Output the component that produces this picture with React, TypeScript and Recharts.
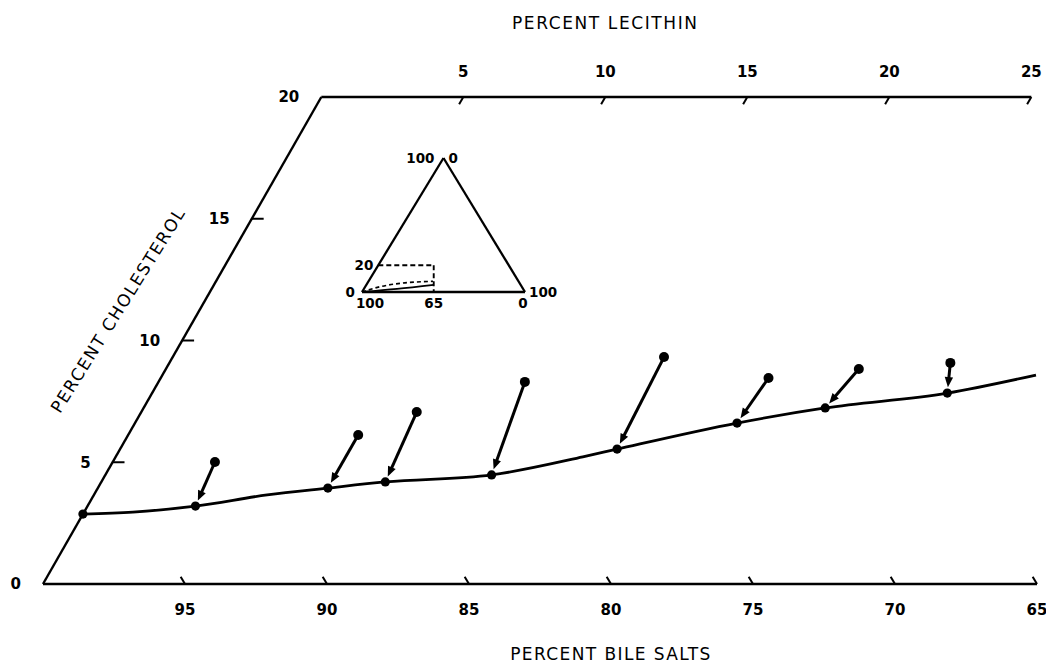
import React from 'react';
import { ComposedChart, Line, Scatter, XAxis, YAxis, ReferenceLine, ReferenceDot } from 'recharts';

// ---- geometry of the skewed (ternary) frame ----
const SKEW = 0.49; // horizontal shift per % cholesterol, in % lecithin units
const toX = (lecithin: number, cholesterol: number) => lecithin + SKEW * cholesterol;

// ---- tick labels ----
const bileSaltTicks = [95, 90, 85, 80, 75, 70, 65];
const lecithinTicks = [5, 10, 15, 20, 25];
const cholesterolTicks = [0, 5, 10, 15, 20];
const cholesterolTickMarks = [5, 10, 15];

// ---- equilibrium points (on the solubility curve) ----
const eqLecithin = [0, 3.8, 8.1, 10.0, 13.6, 17.5, 21.2, 24.0, 28.0];
const eqCholesterol = [2.87, 3.2, 3.94, 4.19, 4.48, 5.54, 6.61, 7.23, 7.84];

// ---- initial (supersaturated) points, arrow i goes to eq point i+1 ----
const initLecithin = [3.6, 8.1, 9.7, 12.9, 17.3, 21.4, 24.4, 27.5];
const initCholesterol = [5.01, 6.12, 7.06, 8.3, 9.32, 8.46, 8.83, 9.08];

// ---- traced solubility limit curve ----
const curveLecithin = [0, 1.72, 3.8, 6.1, 8.1, 10.0, 13.6, 16.45, 17.5, 21.2, 24.0, 28.0, 30.76];
const curveCholesterol = [2.87, 2.95, 3.2, 3.66, 3.94, 4.19, 4.48, 5.22, 5.54, 6.61, 7.23, 7.84, 8.58];

// ---- inset triangle (plot units: base 0..100, height 0..86.6) ----
const insetVertX = [0, 50, 100];
const insetVertY = [0, 86.6, 0];
const insetBoxX = [10, 44, 44];
const insetBoxY = [17.3, 17.3, 0];
const insetSolidX = [0, 21.5, 44];
const insetSolidY = [0, 2.0, 4.6];
const insetDashX = [0, 11, 23.3, 43.6];
const insetDashY = [0, 3.4, 5.6, 6.9];

const FONT = '"DejaVu Sans", sans-serif';

const curveData = curveLecithin.map((l, i) => ({ x: toX(l, curveCholesterol[i]), y: curveCholesterol[i] }));
const eqData = eqLecithin.map((l, i) => ({ x: toX(l, eqCholesterol[i]), y: eqCholesterol[i] }));
const initData = initLecithin.map((l, i) => ({ x: toX(l, initCholesterol[i]), y: initCholesterol[i] }));

const arrowShape = (p: any) => {
  const { x1, y1, x2, y2 } = p;
  const dx = x2 - x1;
  const dy = y2 - y1;
  const len = Math.hypot(dx, dy) || 1;
  const ux = dx / len;
  const uy = dy / len;
  const tipX = x2 - ux * 6;
  const tipY = y2 - uy * 6;
  const headLen = 10;
  const headW = 4.2;
  const bx = tipX - ux * headLen;
  const by = tipY - uy * headLen;
  const px = -uy;
  const py = ux;
  return (
    <g>
      <line x1={x1} y1={y1} x2={bx + ux * 1} y2={by + uy * 1} stroke="#000" strokeWidth={3} />
      <polygon
        points={`${tipX},${tipY} ${bx + px * headW},${by + py * headW} ${bx - px * headW},${by - py * headW}`}
        fill="#000"
      />
    </g>
  );
};

const numStyle = { fill: '#000', fontSize: 15, fontWeight: 'bold', fontFamily: FONT };
const insetNum = { fill: '#000', fontSize: 13.5, fontWeight: 'bold', fontFamily: FONT };

const dot = (r: number) => (p: any) => <circle cx={p.cx} cy={p.cy} r={r} fill="#000" />;

function Inset() {
  const solid = insetSolidX.map((x, i) => ({ x, y: insetSolidY[i] }));
  const dashed = insetDashX.map((x, i) => ({ x, y: insetDashY[i] }));
  const edges = [0, 1, 2].map((i) => [
    { x: insetVertX[i], y: insetVertY[i] },
    { x: insetVertX[(i + 1) % 3], y: insetVertY[(i + 1) % 3] },
  ]);
  return (
    <ComposedChart width={230} height={180} margin={{ top: 18, left: 30, right: 37, bottom: 28 }}>
      <XAxis type="number" dataKey="x" domain={[0, 100]} hide />
      <YAxis type="number" dataKey="y" domain={[0, 86.6]} hide />
      {edges.map((seg, i) => (
        <ReferenceLine key={'e' + i} segment={seg as any} stroke="#000" strokeWidth={2.3} ifOverflow="visible" />
      ))}
      <ReferenceLine
        segment={[{ x: insetBoxX[0], y: insetBoxY[0] }, { x: insetBoxX[1], y: insetBoxY[1] }]}
        stroke="#000" strokeWidth={1.9} strokeDasharray="5 3" ifOverflow="visible"
      />
      <ReferenceLine
        segment={[{ x: insetBoxX[1], y: insetBoxY[1] }, { x: insetBoxX[2], y: insetBoxY[2] }]}
        stroke="#000" strokeWidth={1.9} strokeDasharray="5 3" ifOverflow="visible"
      />
      <Line data={solid} dataKey="y" type="monotone" stroke="#000" strokeWidth={1.8} dot={false} isAnimationActive={false} />
      <Line data={dashed} dataKey="y" type="monotone" stroke="#000" strokeWidth={1.6} strokeDasharray="4 3" dot={false} isAnimationActive={false} />
      <ReferenceDot x={50} y={86.6} r={1} fill="none" stroke="none" ifOverflow="visible"
        label={{ value: '100', position: 'left', offset: 8, ...insetNum }} />
      <ReferenceDot x={50} y={86.6} r={1} fill="none" stroke="none" ifOverflow="visible"
        label={{ value: '0', position: 'right', offset: 4, ...insetNum }} />
      <ReferenceDot x={0} y={0} r={1} fill="none" stroke="none" ifOverflow="visible"
        label={{ value: '0', position: 'left', offset: 6, ...insetNum }} />
      <ReferenceDot x={100} y={0} r={1} fill="none" stroke="none" ifOverflow="visible"
        label={{ value: '100', position: 'right', offset: 3, ...insetNum }} />
      <ReferenceDot x={insetBoxX[0]} y={insetBoxY[0]} r={1} fill="none" stroke="none" ifOverflow="visible"
        label={{ value: '20', position: 'left', offset: 4, ...insetNum }} />
      <ReferenceDot x={4.9} y={0} r={1} fill="none" stroke="none" ifOverflow="visible"
        label={{ value: '100', position: 'bottom', offset: 5, ...insetNum }} />
      <ReferenceDot x={44} y={0} r={1} fill="none" stroke="none" ifOverflow="visible"
        label={{ value: '65', position: 'bottom', offset: 5, ...insetNum }} />
      <ReferenceDot x={98.8} y={0} r={1} fill="none" stroke="none" ifOverflow="visible"
        label={{ value: '0', position: 'bottom', offset: 5, ...insetNum }} />
    </ComposedChart>
  );
}

export default function App() {
  const leftEdge = [{ x: 0, y: 0 }, { x: toX(0, 20), y: 20 }];
  const topEdge = [{ x: toX(0, 20), y: 20 }, { x: toX(25, 20), y: 20 }];
  return (
    <div style={{ position: 'relative', width: 1046, height: 661, background: '#fff' }}>
      <ComposedChart width={1046} height={661} margin={{ top: 59, left: 35, right: 17, bottom: 55 }}>
        <XAxis
          xAxisId="b"
          type="number"
          dataKey="x"
          domain={[0, 35]}
          ticks={bileSaltTicks.map((b) => 100 - b)}
          tickFormatter={(v: number) => String(Math.round(100 - v))}
          axisLine={{ stroke: '#000', strokeWidth: 2.6 }}
          tickLine={false}
          tickSize={0}
          tickMargin={20}
          tick={numStyle}
        />
        <XAxis
          xAxisId="t"
          orientation="top"
          type="number"
          dataKey="x"
          domain={[-SKEW * 20, 35 - SKEW * 20]}
          allowDataOverflow
          ticks={lecithinTicks}
          axisLine={false}
          tickLine={false}
          tickSize={0}
          tickMargin={20}
          tick={numStyle}
        />
        <YAxis type="number" dataKey="y" domain={[0, 20]} hide />

        <ReferenceLine xAxisId="b" segment={leftEdge} stroke="#000" strokeWidth={2.4} ifOverflow="visible" />
        <ReferenceLine xAxisId="b" segment={topEdge} stroke="#000" strokeWidth={2.4} ifOverflow="visible" />

        {bileSaltTicks.map((b) => (
          <ReferenceLine key={'bt' + b} xAxisId="b" ifOverflow="visible" stroke="#000" strokeWidth={2}
            segment={[{ x: toX(100 - b, 0), y: 0 }, { x: toX(100 - b - 0.3, 0.3), y: 0.3 }]} />
        ))}
        {lecithinTicks.map((l) => (
          <ReferenceLine key={'lt' + l} xAxisId="b" ifOverflow="visible" stroke="#000" strokeWidth={2}
            segment={[{ x: toX(l, 20), y: 20 }, { x: toX(l, 19.7), y: 19.7 }]} />
        ))}
        {cholesterolTickMarks.map((c) => (
          <ReferenceLine key={'ct' + c} xAxisId="b" ifOverflow="visible" stroke="#000" strokeWidth={2}
            segment={[{ x: toX(0, c), y: c }, { x: toX(0.42, c), y: c }]} />
        ))}
        {cholesterolTicks.map((c) => (
          <ReferenceDot key={'cl' + c} xAxisId="b" x={toX(0, c)} y={c} r={1} fill="none" stroke="none" ifOverflow="visible"
            label={{ value: String(c), position: 'left', offset: 21, ...numStyle }} />
        ))}

        <Line xAxisId="b" data={curveData} dataKey="y" type="monotone" stroke="#000" strokeWidth={2.8} dot={false} isAnimationActive={false} />

        {initData.map((p, i) => (
          <ReferenceLine key={'ar' + i} xAxisId="b" ifOverflow="visible"
            segment={[{ x: p.x, y: p.y }, { x: eqData[i + 1].x, y: eqData[i + 1].y }]}
            shape={arrowShape} />
        ))}

        <Scatter xAxisId="b" data={eqData} dataKey="y" shape={dot(4.6)} isAnimationActive={false} />
        <Scatter xAxisId="b" data={initData} dataKey="y" shape={dot(5)} isAnimationActive={false} />

        <ReferenceDot xAxisId="b" x={19.8} y={20} r={1} fill="none" stroke="none" ifOverflow="visible"
          label={{ value: 'PERCENT LECITHIN', position: 'top', offset: 67, fill: '#000', fontSize: 17, fontFamily: FONT, letterSpacing: 1.6 }} />
        <ReferenceDot xAxisId="b" x={20.0} y={0} r={1} fill="none" stroke="none" ifOverflow="visible"
          label={{ value: 'PERCENT BILE SALTS', position: 'bottom', offset: 63, fill: '#000', fontSize: 17, fontFamily: FONT, letterSpacing: 1.4 }} />
        <ReferenceDot xAxisId="b" x={2.64} y={11.25} r={1} fill="none" stroke="none" ifOverflow="visible"
          label={(p: any) => {
            const vb = p.viewBox || {};
            const cx = (vb.x ?? 0) + (vb.width ?? 0) / 2;
            const cy = (vb.y ?? 0) + (vb.height ?? 0) / 2;
            return (
              <text x={cx} y={cy} transform={`rotate(-58 ${cx} ${cy})`} textAnchor="middle" dominantBaseline="central"
                fill="#000" fontSize={17} fontFamily={FONT} letterSpacing={1.6}>
                PERCENT CHOLESTEROL
              </text>
            );
          }} />
      </ComposedChart>
      <div style={{ position: 'absolute', left: 324, top: 132 }}>
        <Inset />
      </div>
    </div>
  );
}
